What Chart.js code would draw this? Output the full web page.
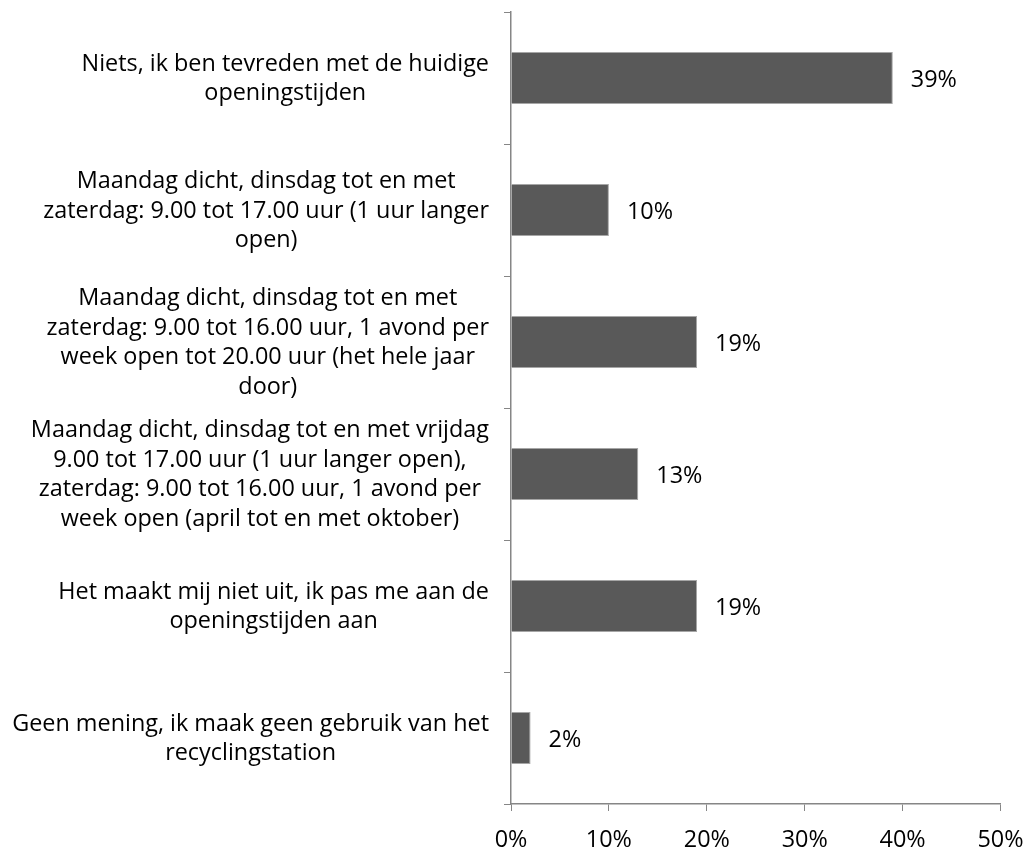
<!DOCTYPE html>
<html>
<head>
<meta charset="utf-8">
<script src="https://cdn.jsdelivr.net/npm/chart.js@4/dist/chart.umd.min.js"></script>
<style>
  html, body { margin: 0; background: #fff; }
  #wrap { width: 1031px; height: 849px; }
</style>
</head>
<body>
<div id="wrap"><canvas id="grafiek"></canvas></div>
<script>
// antwoorden (elke regel zoals in het origineel afgebroken)
const CATEGORIEEN = [
  ['Niets, ik ben tevreden met de huidige', 'openingstijden'],
  ['Maandag dicht, dinsdag tot en met', 'zaterdag: 9.00 tot 17.00 uur (1 uur langer', 'open)'],
  ['Maandag dicht, dinsdag tot en met', 'zaterdag: 9.00 tot 16.00 uur, 1 avond per', 'week open tot 20.00 uur (het hele jaar', 'door)'],
  ['Maandag dicht, dinsdag tot en met vrijdag', '9.00 tot 17.00 uur (1 uur langer open),', 'zaterdag: 9.00 tot 16.00 uur, 1 avond per', 'week open (april tot en met oktober)'],
  ['Het maakt mij niet uit, ik pas me aan de', 'openingstijden aan'],
  ['Geen mening, ik maak geen gebruik van het', 'recyclingstation']
];
const PERCENTAGES = [39, 10, 19, 13, 19, 2];
const X_TICKS = [0, 10, 20, 30, 40, 50];

const FONT_FAMILY = '"Open Sans", Lato, sans-serif';
const FONT_SIZE = 23.4;
const REGEL_HOOGTE = 29.5;
const AS_KLEUR = '#868686';

// labels rechts uitgelijnd als blok, regels gecentreerd (zoals Excel)
const labelPlugin = {
  id: 'labels',
  afterDraw(chart) {
    const ctx = chart.ctx;
    const sy = chart.scales.y;
    const rechts = chart.chartArea.left - 22;
    ctx.save();
    ctx.font = `${FONT_SIZE}px ${FONT_FAMILY}`;
    ctx.fillStyle = '#000';
    ctx.textBaseline = 'middle';
    ctx.textAlign = 'center';
    CATEGORIEEN.forEach((regels, i) => {
      const w = Math.max(...regels.map(r => ctx.measureText(r).width));
      const cx = rechts - w / 2;
      const cy = sy.getPixelForValue(i) + 1;
      regels.forEach((r, j) => {
        ctx.fillText(r, cx, cy + (j - (regels.length - 1) / 2) * REGEL_HOOGTE);
      });
    });
    ctx.textAlign = 'left';
    chart.getDatasetMeta(0).data.forEach((bar, i) => {
      ctx.fillText(PERCENTAGES[i] + '%', bar.x + 18, bar.y + 2);
    });
    ctx.restore();
  }
};

new Chart(document.getElementById('grafiek'), {
  type: 'bar',
  data: {
    labels: CATEGORIEEN.map(r => r.join(' ')),
    datasets: [{
      data: PERCENTAGES,
      backgroundColor: '#595959',
      borderColor: '#a6a6a6',
      borderWidth: 1,
      categoryPercentage: 1,
      barPercentage: 0.394
    }]
  },
  options: {
    indexAxis: 'y',
    responsive: true,
    maintainAspectRatio: false,
    animation: false,
    layout: { padding: { top: 12, right: 30.5, bottom: 0, left: 0 } },
    plugins: { legend: { display: false }, tooltip: { enabled: false } },
    scales: {
      y: {
        type: 'category',
        ticks: { display: false },
        grid: { display: true, drawOnChartArea: false, drawTicks: true, tickLength: 7, offset: true, color: AS_KLEUR, lineWidth: 1 },
        border: { display: true, color: AS_KLEUR, width: 1.5 },
        afterFit: s => { s.width = 511; }
      },
      x: {
        min: 0,
        max: 50,
        afterBuildTicks: s => { s.ticks = X_TICKS.map(v => ({ value: v })); },
        ticks: {
          callback: v => v + '%',
          color: '#000',
          padding: 15,
          maxRotation: 0,
          font: { family: FONT_FAMILY, size: FONT_SIZE }
        },
        grid: { display: true, drawOnChartArea: false, drawTicks: true, tickLength: 7, color: AS_KLEUR, lineWidth: 1 },
        border: { display: true, color: AS_KLEUR, width: 1.5 },
        afterFit: s => { s.height = 45; s.paddingLeft = 0; s.paddingRight = 0; }
      }
    }
  },
  plugins: [labelPlugin]
});
</script>
</body>
</html>
